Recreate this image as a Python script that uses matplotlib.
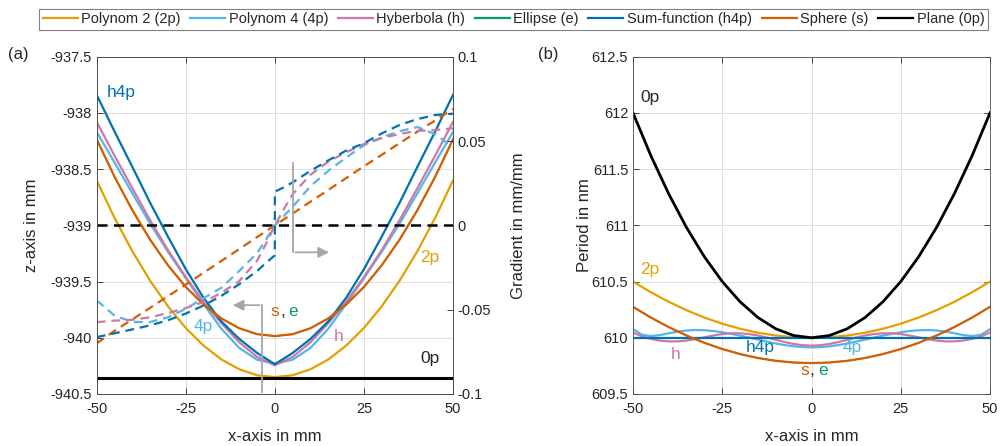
import numpy as np
import matplotlib.pyplot as plt

plt.rcParams['font.family'] = ['Liberation Sans', 'DejaVu Sans']
plt.rcParams['font.size'] = 10.5

# colours (Okabe-Ito)
c_2p = '#E69F00'
c_4p = '#56B4E9'
c_h = '#CC79A7'
c_e = '#009E73'
c_h4p = '#0072B2'
c_s = '#D55E00'
c_0p = '#000000'
c_txt = '#262626'
c_arrow = '#A6A6A6'

x_mm = [-50, -45, -40, -35, -30, -25, -20, -15, -10, -5, 0,
        5, 10, 15, 20, 25, 30, 35, 40, 45, 50]

# (a) surface profiles, z in mm
z_2p = [-938.600, -938.933, -939.230, -939.493, -939.720, -939.913, -940.070, -940.193, -940.280, -940.333, -940.350,
        -940.333, -940.280, -940.193, -940.070, -939.913, -939.720, -939.493, -939.230, -938.933, -938.600]
z_4p = [-938.170, -938.440, -938.715, -938.985, -939.235, -939.470, -939.700, -939.920, -940.090, -940.195, -940.230,
        -940.195, -940.090, -939.920, -939.700, -939.470, -939.235, -938.985, -938.715, -938.440, -938.170]
z_h = [-938.080, -938.380, -938.670, -938.955, -939.220, -939.460, -939.680, -939.870, -940.040, -940.170, -940.245,
       -940.170, -940.040, -939.870, -939.680, -939.460, -939.220, -938.955, -938.670, -938.380, -938.080]
z_e = [-938.235, -938.568, -938.865, -939.128, -939.355, -939.548, -939.705, -939.828, -939.915, -939.968, -939.985,
       -939.968, -939.915, -939.828, -939.705, -939.548, -939.355, -939.128, -938.865, -938.568, -938.235]
z_h4p = [-937.840, -938.165, -938.480, -938.800, -939.100, -939.390, -939.645, -939.855, -940.010, -940.135, -940.235,
         -940.135, -940.010, -939.855, -939.645, -939.390, -939.100, -938.800, -938.480, -938.165, -937.840]
z_s = [-938.235, -938.568, -938.865, -939.128, -939.355, -939.548, -939.705, -939.828, -939.915, -939.968, -939.985,
       -939.968, -939.915, -939.828, -939.705, -939.548, -939.355, -939.128, -938.865, -938.568, -938.235]
z_0p = [-940.36] * 21

# (a) gradients in mm/mm (right axis)
x_grad = [-50, -45, -40, -35, -30, -25, -20, -15, -10, -5, -2.5, 0,
          0, 2.5, 5, 10, 15, 20, 25, 30, 35, 40, 45, 50]
g_4p = [-0.0445, -0.0535, -0.0573, -0.0573, -0.0545, -0.0495, -0.0432, -0.0370, -0.0270, -0.0165, -0.0085, 0.0,
        0.0, 0.0055, 0.0110, 0.0232, 0.0323, 0.0402, 0.0475, 0.0522, 0.0558, 0.0583, 0.0540, 0.0464]
g_h = [-0.0574, -0.0565, -0.0560, -0.0545, -0.0520, -0.0490, -0.0455, -0.0400, -0.0330, -0.0210, -0.0110, 0.0,
       0.0, 0.0095, 0.0185, 0.0300, 0.0378, 0.0433, 0.0482, 0.0517, 0.0542, 0.0560, 0.0565, 0.0575]
g_h4p = [-0.0663, -0.0640, -0.0617, -0.0593, -0.0563, -0.0523, -0.0475, -0.0418, -0.0349, -0.0271, -0.0223, -0.0178,
         0.0200, 0.0225, 0.0255, 0.0323, 0.0385, 0.0443, 0.0487, 0.0545, 0.0595, 0.0630, 0.0654, 0.0662]
g_s = [-0.0700, -0.0625, -0.0558, -0.0489, -0.0420, -0.0351, -0.0281, -0.0211, -0.0141, -0.0070, -0.0035, 0.0,
       0.0, 0.0035, 0.0070, 0.0140, 0.0210, 0.0280, 0.0350, 0.0418, 0.0487, 0.0555, 0.0622, 0.0690]
g_0p = [0.0] * 24

# (b) grating period in nm
x_fine = [-50, -47.5, -45, -42.5, -40, -37.5, -35, -32.5, -30, -27.5, -25, -22.5, -20, -17.5, -15, -12.5, -10,
          -7.5, -5, -2.5, 0, 2.5, 5, 7.5, 10, 12.5, 15, 17.5, 20, 22.5, 25, 27.5, 30, 32.5, 35, 37.5, 40,
          42.5, 45, 47.5, 50]
p_2p = [610.5, 610.405, 610.32, 610.245, 610.18, 610.125, 610.08, 610.045, 610.02, 610.005, 610.0,
        610.005, 610.02, 610.045, 610.08, 610.125, 610.18, 610.245, 610.32, 610.405, 610.5]
p_4p = [610.077, 610.027, 610.015, 610.024, 610.040, 610.055, 610.065, 610.069, 610.067, 610.060, 610.049,
        610.035, 610.019, 610.002, 609.984, 609.966, 609.949, 609.935, 609.924, 609.917, 609.915,
        609.917, 609.924, 609.935, 609.949, 609.966, 609.984, 610.002, 610.019, 610.035, 610.049,
        610.060, 610.067, 610.069, 610.065, 610.055, 610.040, 610.024, 610.015, 610.027, 610.077]
p_h = [610.047, 610.013, 609.990, 609.975, 609.968, 609.968, 609.975, 609.988, 610.004, 610.020, 610.033,
       610.040, 610.040, 610.033, 610.020, 610.002, 609.982, 609.962, 609.945, 609.934, 609.930,
       609.934, 609.945, 609.962, 609.982, 610.002, 610.020, 610.033, 610.040, 610.040, 610.033,
       610.020, 610.004, 609.988, 609.975, 609.968, 609.968, 609.975, 609.990, 610.013, 610.047]
p_e = [610.275, 610.18, 610.095, 610.02, 609.955, 609.9, 609.855, 609.82, 609.795, 609.78, 609.775,
       609.78, 609.795, 609.82, 609.855, 609.9, 609.955, 610.02, 610.095, 610.18, 610.275]
p_h4p = [610.0] * 21
p_s = [610.275, 610.18, 610.095, 610.02, 609.955, 609.9, 609.855, 609.82, 609.795, 609.78, 609.775,
       609.78, 609.795, 609.82, 609.855, 609.9, 609.955, 610.02, 610.095, 610.18, 610.275]
p_0p = [612.0, 611.62, 611.28, 610.98, 610.72, 610.5, 610.32, 610.18, 610.08, 610.02, 610.0,
        610.02, 610.08, 610.18, 610.32, 610.5, 610.72, 610.98, 611.28, 611.62, 612.0]

x_ticks = [-50, -25, 0, 25, 50]
x_labels = ['-50', '-25', '0', '25', '50']
z_ticks = [-940.5, -940, -939.5, -939, -938.5, -938, -937.5]
z_labels = ['-940.5', '-940', '-939.5', '-939', '-938.5', '-938', '-937.5']
g_ticks = [-0.1, -0.05, 0, 0.05, 0.1]
g_labels = ['-0.1', '-0.05', '0', '0.05', '0.1']
p_ticks = [609.5, 610, 610.5, 611, 611.5, 612, 612.5]
p_labels = ['609.5', '610', '610.5', '611', '611.5', '612', '612.5']


def style(ax):
    for sp in ax.spines.values():
        sp.set_color('#4D4D4D')
        sp.set_linewidth(0.6)
    ax.tick_params(direction='in', length=4, width=0.6, color=c_txt,
                   labelcolor=c_txt, labelsize=10.5)
    ax.tick_params(axis='x', pad=6)


fig = plt.figure(figsize=(10, 4.46), dpi=100)
ax1 = fig.add_axes([0.0967, 0.1166, 0.3563, 0.7563])
ax2 = ax1.twinx()
ax3 = fig.add_axes([0.633, 0.1166, 0.357, 0.7563])

lw = 1.6
dash = (0, (4, 2.6))

# --- (a)
h_2p, = ax1.plot(x_mm, z_2p, color=c_2p, lw=lw, label='Polynom 2 (2p)')
h_4p, = ax1.plot(x_mm, z_4p, color=c_4p, lw=lw, label='Polynom 4 (4p)')
h_h, = ax1.plot(x_mm, z_h, color=c_h, lw=lw, label='Hyberbola (h)')
h_e, = ax1.plot(x_mm, z_e, color=c_e, lw=1.0, label='Ellipse (e)')
h_h4p, = ax1.plot(x_mm, z_h4p, color=c_h4p, lw=lw, label='Sum-function (h4p)')
h_s, = ax1.plot(x_mm, z_s, color=c_s, lw=lw, label='Sphere (s)')
h_0p, = ax1.plot(x_mm, z_0p, color=c_0p, lw=2.2, label='Plane (0p)')

ax2.plot(x_grad, g_0p, color=c_0p, lw=1.8, ls=dash)
ax2.plot(x_grad, g_s, color=c_s, lw=lw, ls=dash)
ax2.plot(x_grad, g_4p, color=c_4p, lw=lw, ls=dash)
ax2.plot(x_grad, g_h, color=c_h, lw=lw, ls=dash)
ax2.plot(x_grad, g_h4p, color=c_h4p, lw=lw, ls=dash)

ax1.set_xlim(-50, 50)
ax1.set_ylim(-940.5, -937.5)
ax2.set_ylim(-0.1, 0.1)
ax1.set_xticks(x_ticks, x_labels)
ax1.set_yticks(z_ticks, z_labels)
ax2.set_yticks(g_ticks, g_labels)
ax1.grid(True, color='#DEDEDE', lw=0.7)
ax1.set_axisbelow(True)
ax1.tick_params(top=True)
style(ax1)
style(ax2)
ax1.set_xlabel('x-axis in mm', fontsize=12, color=c_txt, labelpad=9)
ax1.set_ylabel('z-axis in mm', fontsize=12, color=c_txt, labelpad=8)
ax2.set_ylabel('Gradient in mm/mm', fontsize=12, color=c_txt, labelpad=14)

# gray arrows telling which axis belongs to which line style
ax2.plot([5.2, 5.2], [0.037, -0.016], color=c_arrow, lw=1.3)
ax2.annotate('', xy=(16.0, -0.016), xytext=(5.0, -0.016),
             arrowprops=dict(arrowstyle='-|>', color=c_arrow, lw=1.3, mutation_scale=16))
ax1.plot([-3.7, -3.7], [-940.48, -939.71], color=c_arrow, lw=1.3)
ax1.annotate('', xy=(-12.6, -939.71), xytext=(-3.5, -939.71),
             arrowprops=dict(arrowstyle='-|>', color=c_arrow, lw=1.3, mutation_scale=16))

fs = 12.5
ax1.text(-43, -937.82, 'h4p', color=c_h4p, fontsize=fs, ha='center', va='center')
ax1.text(43.5, -939.29, '2p', color=c_2p, fontsize=fs, ha='center', va='center')
ax1.text(-20.1, -939.9, '4p', color=c_4p, fontsize=fs, ha='center', va='center')
ax1.text(17.8, -939.99, 'h', color=c_h, fontsize=fs, ha='center', va='center')
ax1.text(43.5, -940.18, '0p', color=c_txt, fontsize=fs, ha='center', va='center')
ax1.text(1.3, -939.77, 's', color=c_s, fontsize=fs, ha='right', va='center')
ax1.text(1.5, -939.77, ',', color=c_txt, fontsize=fs, ha='left', va='center')
ax1.text(3.9, -939.77, 'e', color=c_e, fontsize=fs, ha='left', va='center')

# --- (b)
ax3.plot(x_mm, p_2p, color=c_2p, lw=lw)
ax3.plot(x_fine, p_4p, color=c_4p, lw=lw)
ax3.plot(x_fine, p_h, color=c_h, lw=lw)
ax3.plot(x_mm, p_e, color=c_e, lw=1.0)
ax3.plot(x_mm, p_h4p, color=c_h4p, lw=lw)
ax3.plot(x_mm, p_s, color=c_s, lw=lw)
ax3.plot(x_mm, p_0p, color=c_0p, lw=2.0)

ax3.set_xlim(-50, 50)
ax3.set_ylim(609.5, 612.5)
ax3.set_xticks(x_ticks, x_labels)
ax3.set_yticks(p_ticks, p_labels)
ax3.grid(True, color='#DEDEDE', lw=0.7)
ax3.set_axisbelow(True)
ax3.tick_params(top=True, right=True)
style(ax3)
ax3.set_xlabel('x-axis in mm', fontsize=12, color=c_txt, labelpad=9)
ax3.set_ylabel('Period in nm', fontsize=12, color=c_txt, labelpad=0)

ax3.text(-45.2, 612.14, '0p', color=c_txt, fontsize=fs, ha='center', va='center')
ax3.text(-45.2, 610.61, '2p', color=c_2p, fontsize=fs, ha='center', va='center')
ax3.text(-38.2, 609.85, 'h', color=c_h, fontsize=fs, ha='center', va='center')
ax3.text(-14.4, 609.91, 'h4p', color=c_h4p, fontsize=fs, ha='center', va='center')
ax3.text(11.3, 609.91, '4p', color=c_4p, fontsize=fs, ha='center', va='center')
ax3.text(-0.7, 609.71, 's', color=c_s, fontsize=fs, ha='right', va='center')
ax3.text(-0.5, 609.71, ',', color=c_txt, fontsize=fs, ha='left', va='center')
ax3.text(1.9, 609.71, 'e', color=c_e, fontsize=fs, ha='left', va='center')

fig.text(0.008, 0.877, '(a)', fontsize=12, color=c_txt, va='center')
fig.text(0.538, 0.877, '(b)', fontsize=12, color=c_txt, va='center')

leg = fig.legend(handles=[h_2p, h_4p, h_h, h_e, h_h4p, h_s, h_0p], loc='center',
                 bbox_to_anchor=(0.5135, 0.957), ncol=7, fontsize=10.5,
                 handlelength=2.4, handletextpad=0.25, columnspacing=0.65,
                 borderpad=0.25, fancybox=False, framealpha=1, edgecolor='#808080')
leg.get_frame().set_linewidth(0.8)
for line in leg.get_lines():
    line.set_linewidth(lw)
for t in leg.get_texts():
    t.set_color(c_txt)

fig.savefig('out.png', dpi=100)
